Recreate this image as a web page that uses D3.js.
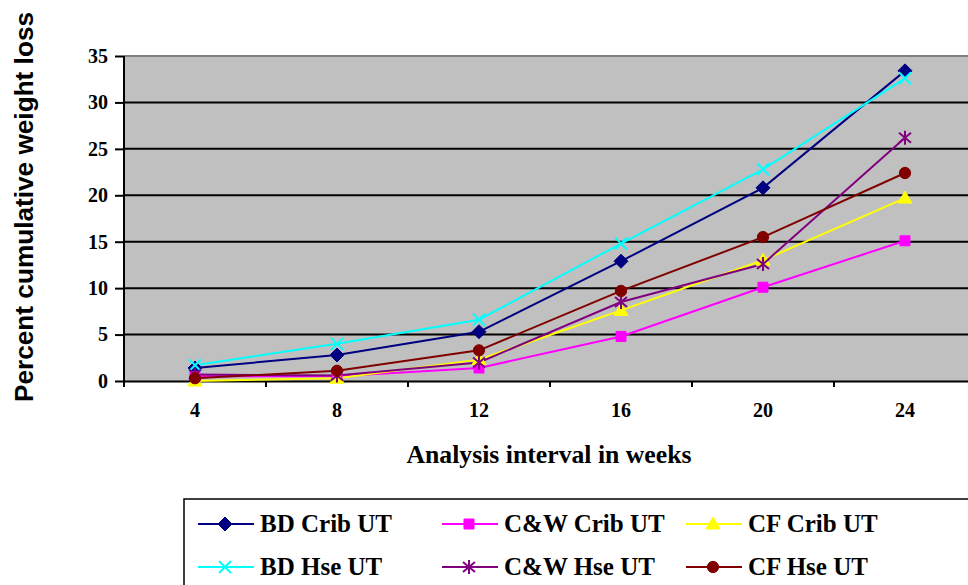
<!DOCTYPE html>
<html>
<head>
<meta charset="utf-8">
<script src="https://cdn.jsdelivr.net/npm/d3@7"></script>
<style>
  body { margin: 0; background: #fff; }
  svg { display: block; }
</style>
</head>
<body>
<div id="chart"></div>
<script>
// chart values
var weeks = ["4", "8", "12", "16", "20", "24"];
var yTicks = [0, 5, 10, 15, 20, 25, 30, 35];
var seriesNames = ["BD Crib UT", "C&W Crib UT", "CF Crib UT", "BD Hse UT", "C&W Hse UT", "CF Hse UT"];
var bdCrib = [1.4, 2.8, 5.3, 12.9, 20.8, 33.4];
var cwCrib = [0.5, 0.5, 1.4, 4.8, 10.1, 15.1];
var cfCrib = [0.0, 0.3, 2.3, 7.6, 13.0, 19.7];
var bdHse  = [1.7, 4.0, 6.6, 14.8, 22.8, 32.6];
var cwHse  = [0.7, 0.6, 2.0, 8.5, 12.6, 26.2];
var cfHse  = [0.3, 1.1, 3.3, 9.7, 15.5, 22.4];

var seriesValues = [bdCrib, cwCrib, cfCrib, bdHse, cwHse, cfHse];
var seriesColors = ["#000080", "#FF00FF", "#FFFF00", "#00FFFF", "#800080", "#800000"];
var seriesMarks = ["diamond", "square", "triangle", "times", "asterisk", "circle"];

var width = 968, height = 585;
var plot = {left: 124, right: 976, top: 56, bottom: 381};

var svg = d3.select("#chart")
  .append("svg")
    .attr("width", width)
    .attr("height", height);

var x = d3.scaleBand()
  .domain(weeks)
  .range([plot.left, plot.right])
  .padding(0);

var y = d3.scaleLinear()
  .domain([0, 35])
  .range([plot.bottom, plot.top]);

// plot background
svg.append("rect")
  .attr("x", plot.left)
  .attr("y", plot.top)
  .attr("width", plot.right - plot.left)
  .attr("height", plot.bottom - plot.top)
  .attr("fill", "#c0c0c0");

svg.append("line")
  .attr("x1", plot.left).attr("x2", plot.right)
  .attr("y1", y(35)).attr("y2", y(35))
  .attr("stroke", "#808080")
  .attr("stroke-width", 2);

// gridlines
svg.append("g")
  .selectAll("line")
  .data(yTicks.filter(function(d) { return d > 0 && d < 35; }))
  .enter()
  .append("line")
    .attr("x1", plot.left).attr("x2", plot.right)
    .attr("y1", function(d) { return y(d); })
    .attr("y2", function(d) { return y(d); })
    .attr("stroke", "#000")
    .attr("stroke-width", 2);

// y axis
var yAxis = svg.append("g")
  .attr("transform", "translate(" + plot.left + ",0)")
  .call(d3.axisLeft(y).tickValues(yTicks).tickSize(9).tickPadding(7).tickSizeOuter(0));
yAxis.select(".domain").attr("stroke-width", 2).attr("d", "M0," + y(35) + "V" + (plot.bottom + 6));
yAxis.selectAll(".tick line").attr("stroke-width", 2);
yAxis.selectAll("text")
  .attr("font-family", "'Liberation Serif', 'Times New Roman', serif")
  .attr("font-weight", "bold")
  .attr("font-size", "20px")
  .attr("fill", "#000");

// x axis: labels at category centres, ticks between categories
var xAxis = svg.append("g")
  .attr("transform", "translate(0," + plot.bottom + ")")
  .call(d3.axisBottom(x).tickSize(0).tickPadding(22).tickSizeOuter(0));
xAxis.select(".domain").attr("stroke-width", 2);
xAxis.selectAll("text")
  .attr("font-family", "'Liberation Serif', 'Times New Roman', serif")
  .attr("font-weight", "bold")
  .attr("font-size", "20px")
  .attr("fill", "#000");

xAxis.selectAll(".boundary")
  .data(weeks)
  .enter()
  .append("line")
    .attr("class", "boundary")
    .attr("x1", function(d) { return x(d); })
    .attr("x2", function(d) { return x(d); })
    .attr("y1", 0).attr("y2", 6)
    .attr("stroke", "#000")
    .attr("stroke-width", 2);

// axis titles
svg.append("text")
  .attr("x", 549)
  .attr("y", 463)
  .attr("text-anchor", "middle")
  .attr("font-family", "'Liberation Serif', 'Times New Roman', serif")
  .attr("font-weight", "bold")
  .attr("font-size", "26px")
  .attr("textLength", 285)
  .attr("lengthAdjust", "spacingAndGlyphs")
  .text("Analysis interval in weeks");

svg.append("text")
  .attr("transform", "translate(33,207) rotate(-90)")
  .attr("text-anchor", "middle")
  .attr("font-family", "'Liberation Sans', Arial, sans-serif")
  .attr("font-weight", "bold")
  .attr("font-size", "26px")
  .attr("textLength", 390)
  .attr("lengthAdjust", "spacingAndGlyphs")
  .text("Percent cumulative weight loss");

// marker shapes
function markPath(kind) {
  if (kind === "diamond") return "M0,-7L7,0L0,7L-7,0Z";
  if (kind === "square") return "M-5,-5H5V5H-5Z";
  if (kind === "triangle") return "M0,-7L7,5L-7,5Z";
  if (kind === "times") return "M-6,-6L6,6M-6,6L6,-6";
  if (kind === "asterisk") return "M-6,-5L6,5M-6,5L6,-5M0,-7V7";
  return d3.symbol().type(d3.symbolCircle).size(100)();
}

function drawMark(g, kind, color) {
  var stroked = (kind === "times" || kind === "asterisk");
  g.append("path")
    .attr("d", markPath(kind))
    .attr("fill", stroked ? "none" : color)
    .attr("stroke", color)
    .attr("stroke-width", stroked ? 2 : 1);
}

var line = d3.line()
  .x(function(d, i) { return x(weeks[i]) + x.bandwidth() / 2; })
  .y(function(d) { return y(d); });

// lines
svg.append("g")
  .selectAll("path")
  .data(seriesValues)
  .enter()
  .append("path")
    .attr("d", function(d) { return line(d); })
    .attr("fill", "none")
    .attr("stroke", function(d, i) { return seriesColors[i]; })
    .attr("stroke-width", 2);

// markers
seriesValues.forEach(function(vals, s) {
  vals.forEach(function(v, i) {
    var g = svg.append("g")
      .attr("transform", "translate(" + (x(weeks[i]) + x.bandwidth() / 2) + "," + y(v) + ")");
    drawMark(g, seriesMarks[s], seriesColors[s]);
  });
});

// legend
var legend = svg.append("g");
legend.append("rect")
  .attr("x", 184)
  .attr("y", 499)
  .attr("width", 800)
  .attr("height", 100)
  .attr("fill", "#fff")
  .attr("stroke", "#000")
  .attr("stroke-width", 1.5);

seriesNames.forEach(function(name, i) {
  var col = i % 3, row = Math.floor(i / 3);
  var lx = 198 + col * 244, ly = 524 + row * 43;
  var item = legend.append("g").attr("transform", "translate(" + lx + "," + ly + ")");
  item.append("line")
    .attr("x1", 0).attr("x2", 56)
    .attr("y1", 0).attr("y2", 0)
    .attr("stroke", seriesColors[i])
    .attr("stroke-width", 2);
  drawMark(item.append("g").attr("transform", "translate(27,0)"), seriesMarks[i], seriesColors[i]);
  item.append("text")
    .attr("x", 62)
    .attr("y", 8)
    .attr("font-family", "'Liberation Serif', 'Times New Roman', serif")
    .attr("font-weight", "bold")
    .attr("font-size", "25px")
    .text(name);
});
</script>
</body>
</html>
